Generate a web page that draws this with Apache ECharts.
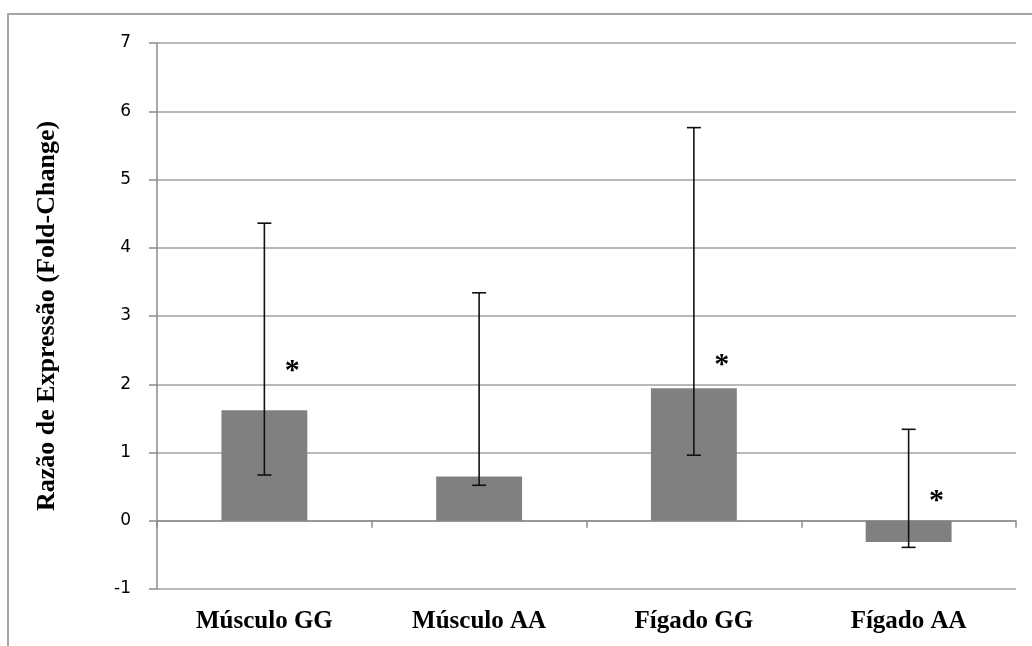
<!DOCTYPE html>
<html>
<head>
<meta charset="utf-8">
<script src="https://cdn.jsdelivr.net/npm/echarts@6/dist/echarts.min.js"></script>
<style>html,body{margin:0;padding:0;background:#fff;}#c{width:1032px;height:646px;}</style>
</head>
<body>
<div id="c"></div>
<script>
var categories = ['Músculo GG', 'Músculo AA', 'Fígado GG', 'Fígado AA'];
var values = [1.62, 0.65, 1.94, -0.31];
var errLow = [0.67, 0.52, 0.96, -0.39];
var errHigh = [4.36, 3.34, 5.76, 1.34];
var starValues = [2.28, null, 2.37, 0.38];
var yTicks = [-1, 0, 1, 2, 3, 4, 5, 6, 7];
var yName = 'Razão de Expressão (Fold-Change)';

var errData = categories.map(function (c, i) { return [i, errLow[i], errHigh[i]]; });
var starData = [];
starValues.forEach(function (v, i) { if (v !== null) starData.push([i, v]); });

var chart = echarts.init(document.getElementById('c'), null, {renderer: 'canvas'});
chart.setOption({
  animation: false,
  backgroundColor: '#ffffff',
  graphic: [{
    type: 'rect', silent: true,
    shape: {x: 8, y: 14, width: 1100, height: 700},
    style: {fill: 'none', stroke: '#a6a6a6', lineWidth: 2}
  }],
  grid: {left: 157, right: 16, top: 43, bottom: 57},
  xAxis: [{
    type: 'category', data: categories,
    axisLine: {onZero: true, lineStyle: {color: '#8c8c8c', width: 1.5}},
    axisTick: {show: true, length: 7, lineStyle: {color: '#8c8c8c', width: 1.5}},
    axisLabel: {show: false}
  }, {
    type: 'category', data: categories, position: 'bottom',
    axisLine: {show: false}, axisTick: {show: false},
    axisLabel: {show: true, margin: 20, fontFamily: 'Liberation Serif', fontWeight: 'bold', fontSize: 25, color: '#000'}
  }],
  yAxis: {
    type: 'value', min: yTicks[0], max: yTicks[yTicks.length - 1], interval: 1,
    name: yName, nameLocation: 'middle', nameRotate: 90, nameGap: 97,
    nameTextStyle: {fontFamily: 'Liberation Serif', fontWeight: 'bold', fontSize: 26, color: '#000'},
    axisLine: {show: true, lineStyle: {color: '#8c8c8c', width: 1.5}},
    axisTick: {show: true, length: 8, lineStyle: {color: '#8c8c8c', width: 1.5}},
    axisLabel: {margin: 26, fontFamily: 'DejaVu Sans', fontSize: 17, color: '#000'},
    splitLine: {show: true, lineStyle: {color: '#a0a0a0', width: 1.5}}
  },
  series: [{
    type: 'bar', data: values, barWidth: '40%', xAxisIndex: 0,
    itemStyle: {color: '#808080'}
  }, {
    type: 'custom', xAxisIndex: 0, data: errData, z: 5,
    renderItem: function (params, api) {
      var x = api.value(0);
      var lo = api.coord([x, api.value(1)]);
      var hi = api.coord([x, api.value(2)]);
      var hw = 7;
      var st = {stroke: '#111', lineWidth: 1.6};
      return {type: 'group', children: [
        {type: 'line', shape: {x1: lo[0], y1: lo[1], x2: hi[0], y2: hi[1]}, style: st},
        {type: 'line', shape: {x1: lo[0] - hw, y1: lo[1], x2: lo[0] + hw, y2: lo[1]}, style: st},
        {type: 'line', shape: {x1: hi[0] - hw, y1: hi[1], x2: hi[0] + hw, y2: hi[1]}, style: st}
      ]};
    }
  }, {
    type: 'custom', xAxisIndex: 0, data: starData, z: 6,
    renderItem: function (params, api) {
      var p = api.coord([api.value(0), api.value(1)]);
      var bw = api.size([1, 0])[0];
      return {type: 'text', x: p[0] + bw * 0.13, y: p[1] + 6,
        style: {text: '*', fontFamily: 'Liberation Serif', fontWeight: 'bold', fontSize: 30, fill: '#000', align: 'center', verticalAlign: 'middle'}};
    }
  }]
});
</script>
</body>
</html>
